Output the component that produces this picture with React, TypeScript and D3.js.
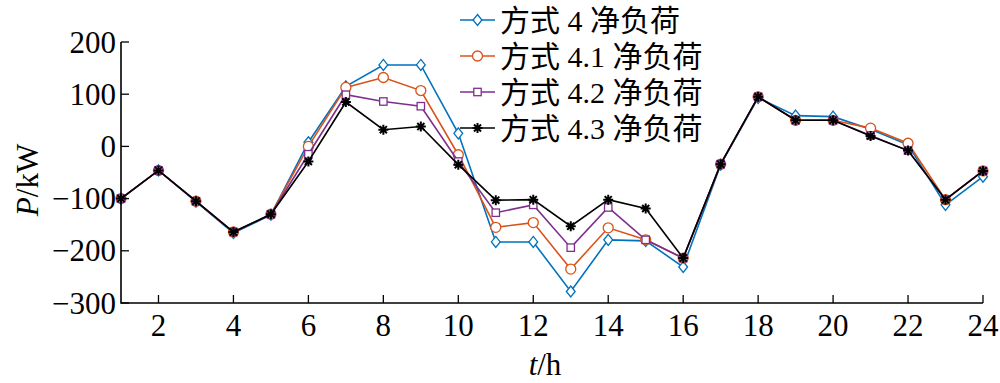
import React from "react";
import * as d3 from "d3";

const hours = d3.range(1, 25);
const seriesNames = ["方式 4 净负荷", "方式 4.1 净负荷", "方式 4.2 净负荷", "方式 4.3 净负荷"];
const mode4 = [-100, -46, -106, -166, -131, 8, 115, 156, 156, 25, -183, -183, -278, -179, -181, -231, -35, 93, 59, 57, 33, 3, -112, -58];
const mode41 = [-100, -46, -105, -164, -130, 0, 113, 132, 107, -16, -155, -146, -235, -156, -179, -214, -34, 95, 50, 50, 35, 6, -102, -47];
const mode42 = [-100, -46, -105, -164, -130, -15, 99, 86, 77, -29, -127, -112, -194, -117, -179, -214, -34, 95, 50, 50, 21, -8, -102, -47];
const mode43 = [-100, -46, -105, -164, -130, -29, 85, 32, 38, -35, -103, -102, -153, -102, -119, -214, -34, 95, 50, 50, 20, -8, -102, -47];
const xTicks = [2, 4, 6, 8, 10, 12, 14, 16, 18, 20, 22, 24];
const yTicks = [-300, -200, -100, 0, 100, 200];

const colors = ["#0072BD", "#D95319", "#7E2F8E", "#000000"];
const markers = ["diamond", "circle", "square", "star"];
const allSeries = [mode4, mode41, mode42, mode43];

const FONT = "'Liberation Serif', 'Times New Roman', 'Noto Sans CJK SC', serif";

function Marker({ type, x, y, color }: { type: string; x: number; y: number; color: string }) {
  if (type === "diamond") {
    const s = 5.5;
    return <path d={`M${x},${y - s}L${x + s * 0.8},${y}L${x},${y + s}L${x - s * 0.8},${y}Z`} fill="white" stroke={color} strokeWidth={1.3} />;
  }
  if (type === "circle") {
    return <circle cx={x} cy={y} r={5} fill="white" stroke={color} strokeWidth={1.3} />;
  }
  if (type === "square") {
    return <rect x={x - 3.7} y={y - 3.7} width={7.4} height={7.4} fill="white" stroke={color} strokeWidth={1.3} />;
  }
  const r = 5;
  const d = d3.range(4).map((i) => {
    const a = (i * Math.PI) / 4;
    return `M${x - r * Math.cos(a)},${y - r * Math.sin(a)}L${x + r * Math.cos(a)},${y + r * Math.sin(a)}`;
  }).join("");
  return <path d={d} stroke={color} strokeWidth={2} fill="none" />;
}

export default function App() {
  const W = 1000, H = 383;
  const x = d3.scaleLinear().domain([1, 24]).range([121, 983]);
  const y = d3.scaleLinear().domain([-300, 200]).range([303, 42]);
  const line = d3.line<number>().x((_, i) => x(hours[i])).y((v) => y(v));

  return (
    <svg width={W} height={H} style={{ position: "absolute", left: 0, top: 0, background: "white" }} fontFamily={FONT}>
      {/* series */}
      {allSeries.map((s, si) => (
        <g key={si}>
          <path d={line(s) || ""} fill="none" stroke={colors[si]} strokeWidth={1.6} />
          {s.map((v, i) => (
            <Marker key={i} type={markers[si]} x={x(hours[i])} y={y(v)} color={colors[si]} />
          ))}
        </g>
      ))}
      {/* axes */}
      <path d={`M${x(1)},${y(200)}V${y(-300)}H${x(24)}`} fill="none" stroke="black" strokeWidth={1.6} />
      {xTicks.map((t) => (
        <g key={t}>
          <line x1={x(t)} x2={x(t)} y1={y(-300)} y2={y(-300) - 8} stroke="black" strokeWidth={1.3} />
          <text x={x(t)} y={336} textAnchor="middle" fontSize={31}>{t}</text>
        </g>
      ))}
      {yTicks.map((t) => (
        <g key={t}>
          <line x1={x(1)} x2={x(1) + 8} y1={y(t)} y2={y(t)} stroke="black" strokeWidth={1.3} />
          <text x={116} y={y(t) + 10.5} textAnchor="end" fontSize={31}>{t < 0 ? "\u2212" + Math.abs(t) : t}</text>
        </g>
      ))}
      <text x={545} y={375} textAnchor="middle" fontSize={31}>
        <tspan fontStyle="italic">t</tspan>/h
      </text>
      <text transform={`translate(38,180) rotate(-90)`} textAnchor="middle" fontSize={31}>
        <tspan fontStyle="italic">P</tspan>/kW
      </text>
      {/* legend */}
      {seriesNames.map((n, i) => {
        const ly = 20 + i * 36;
        return (
          <g key={n}>
            <line x1={460} x2={495} y1={ly} y2={ly} stroke={colors[i]} strokeWidth={1.6} />
            <Marker type={markers[i]} x={477.5} y={ly} color={colors[i]} />
            <text x={500} y={ly + 11} fontSize={30}>{n}</text>
          </g>
        );
      })}
    </svg>
  );
}
